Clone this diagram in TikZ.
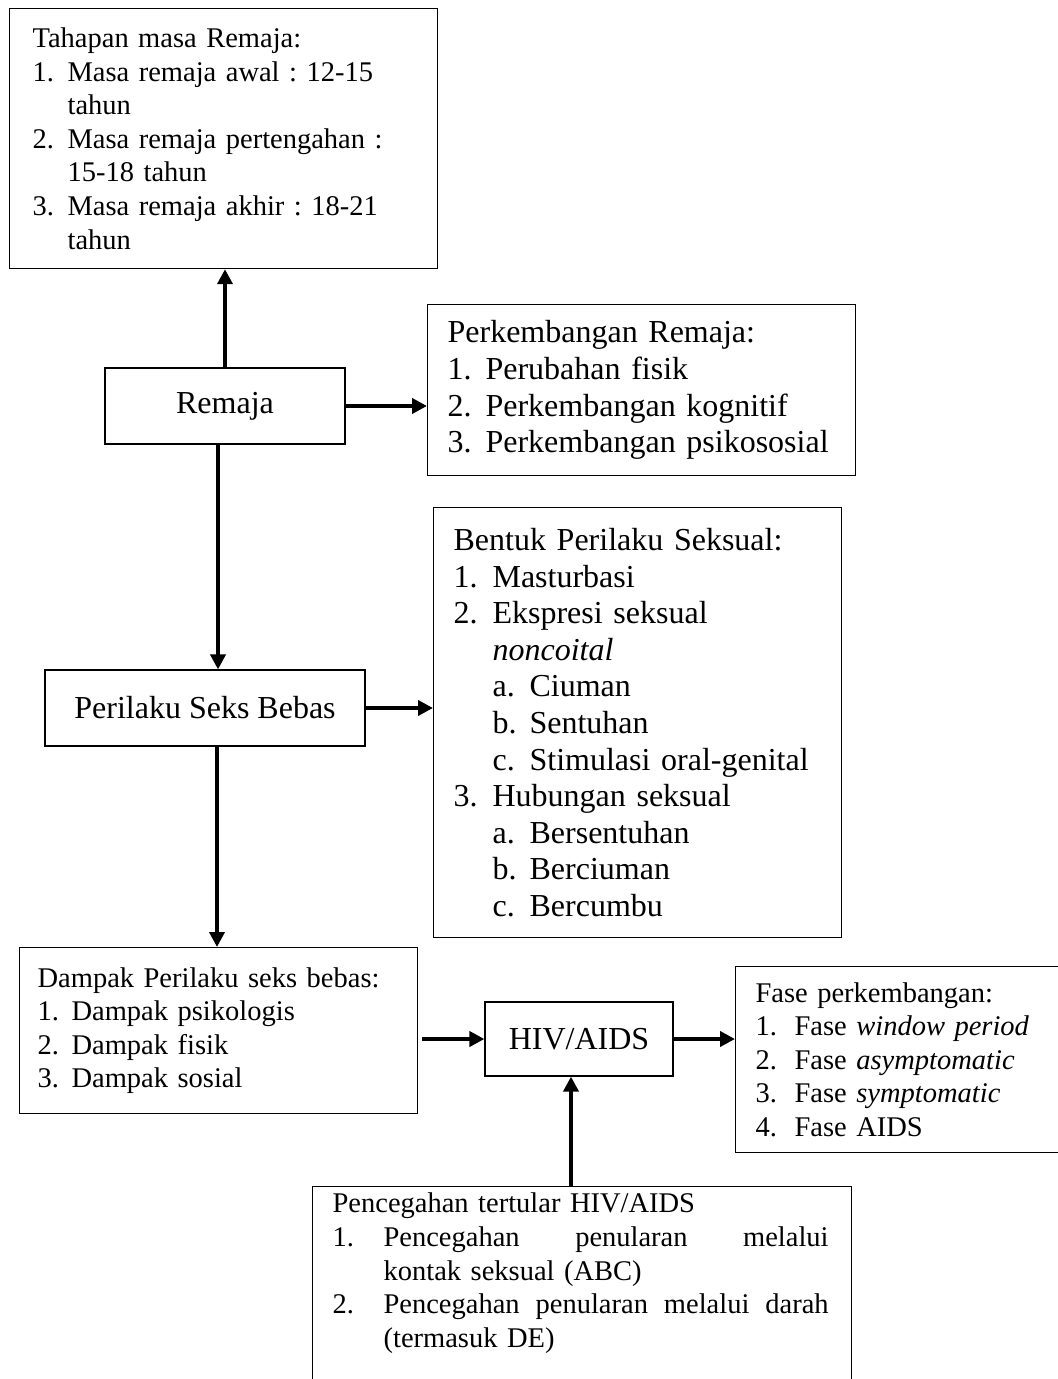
\documentclass[tikz,border=0pt]{standalone}
\usepackage{fontspec}
\setmainfont{Liberation Serif}
\usepackage{tikz}
\usetikzlibrary{arrows.meta}
\frenchspacing

\newcommand{\fsmall}{\fontsize{14.25pt}{16.8pt}\selectfont}
\newcommand{\fbig}{\fontsize{16pt}{18.3pt}\selectfont}
\newcommand{\itemno}[2][19pt]{\makebox[#1][l]{#2}}

\begin{document}
\begin{tikzpicture}[
    x=0.5pt, y=-0.5pt,
    box/.style={rectangle, draw, line width=0.6pt, anchor=north west, align=left, inner ysep=0pt},
    single/.style={rectangle, draw, line width=0.6pt, align=center, font=\fbig},
    arrow/.style={-{Triangle[length=7.5pt, width=7.5pt]}, line width=2pt}
]
    \useasboundingbox (0,0) rectangle (1057,1379);

    % Main chain
    \node[single, minimum width=120pt, minimum height=38pt] (remaja) at (225,406) {Remaja};
    \node[single, minimum width=160pt, minimum height=38pt] (perilaku) at (205,708) {Perilaku Seks Bebas};
    \node[single, minimum width=94pt, minimum height=37pt] (hiv) at (579,1039) {HIV/AIDS};

    % Detail boxes
    \node[box, font=\fsmall, text width=191pt, inner xsep=11.5pt, minimum height=130pt] (tahapan) at (9,8) {Tahapan masa Remaja:\\
        \itemno[17.5pt]{1.}Masa remaja awal : 12-15\\
        \hspace*{17.5pt}tahun\\
        \itemno[17.5pt]{2.}Masa remaja pertengahan :\\
        \hspace*{17.5pt}15-18 tahun\\
        \itemno[17.5pt]{3.}Masa remaja akhir : 18-21\\
        \hspace*{17.5pt}tahun};
    \node[box, font=\fbig, text width=194pt, inner xsep=10pt, minimum height=85.5pt] (perkembangan) at (427,304) {Perkembangan Remaja:\\
        \itemno{1.}Perubahan fisik\\
        \itemno{2.}Perkembangan kognitif\\
        \itemno{3.}Perkembangan psikososial};
    \node[box, font=\fbig, text width=184pt, inner xsep=10pt, minimum height=215pt] (bentuk) at (433,507) {Bentuk Perilaku Seksual:\\
        \itemno[19.5pt]{1.}Masturbasi\\
        \itemno[19.5pt]{2.}Ekspresi seksual\\
        \hspace*{19.5pt}\textit{noncoital}\\
        \hspace*{19.5pt}\itemno[18.5pt]{a.}Ciuman\\
        \hspace*{19.5pt}\itemno[18.5pt]{b.}Sentuhan\\
        \hspace*{19.5pt}\itemno[18.5pt]{c.}Stimulasi oral-genital\\
        \itemno[19.5pt]{3.}Hubungan seksual\\
        \hspace*{19.5pt}\itemno[18.5pt]{a.}Bersentuhan\\
        \hspace*{19.5pt}\itemno[18.5pt]{b.}Berciuman\\
        \hspace*{19.5pt}\itemno[18.5pt]{c.}Bercumbu};
    \node[box, font=\fsmall, text width=181pt, inner xsep=9pt, minimum height=83pt] (dampak) at (19,947) {Dampak Perilaku seks bebas:\\
        \itemno[17pt]{1.}Dampak psikologis\\
        \itemno[17pt]{2.}Dampak fisik\\
        \itemno[17pt]{3.}Dampak sosial};
    \node[box, font=\fsmall, text width=150pt, inner xsep=10pt, minimum height=93pt] (fase) at (735,966) {Fase perkembangan:\\
        \itemno[19.5pt]{1.}Fase \textit{window period}\\
        \itemno[19.5pt]{2.}Fase \textit{asymptomatic}\\
        \itemno[19.5pt]{3.}Fase \textit{symptomatic}\\
        \itemno[19.5pt]{4.}Fase AIDS};
    \node[box, font=\fsmall, text width=249.5pt, inner xsep=10pt, inner ysep=3.3pt, text depth=150pt] (pencegahan) at (312,1186) {Pencegahan tertular HIV/AIDS\\
        \itemno[25.5pt]{1.}\hbox to 222.5pt{Pencegahan\hfill penularan\hfill melalui}\\
        \hspace*{25.5pt}kontak seksual (ABC)\\
        \itemno[25.5pt]{2.}\hbox to 222.5pt{Pencegahan\hfill penularan\hfill melalui\hfill darah}\\
        \hspace*{25.5pt}(termasuk DE)};

    % Connections
    \draw[arrow] (remaja.north) -- (remaja.north |- tahapan.south);
    \draw[arrow] (remaja.east) -- (remaja.east -| perkembangan.west);
    \draw[arrow] ([xshift=-3.5pt]remaja.south) -- ([xshift=-3.5pt]remaja.south |- perilaku.north);
    \draw[arrow] (perilaku.east) -- (perilaku.east -| bentuk.west);
    \draw[arrow] ([xshift=6pt]perilaku.south) -- ([xshift=6pt]perilaku.south |- dampak.north);
    \draw[arrow] ([xshift=2pt]dampak.east |- hiv.west) -- (hiv.west);
    \draw[arrow] (hiv.east) -- (hiv.east -| fase.west);
    \draw[arrow] ([xshift=-4pt]hiv.south |- pencegahan.north) -- ([xshift=-4pt]hiv.south);

\end{tikzpicture}
\end{document}
